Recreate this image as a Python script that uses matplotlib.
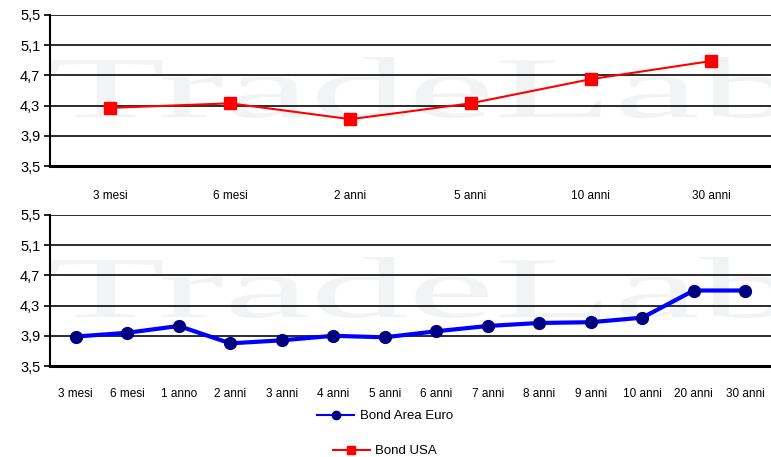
import matplotlib
matplotlib.use("Agg")
from matplotlib import pyplot as plt
from matplotlib.textpath import TextPath
from matplotlib.patches import PathPatch
from matplotlib.font_manager import FontProperties
from matplotlib.transforms import Affine2D
from matplotlib.lines import Line2D

usa_labels = ['3 mesi', '6 mesi', '2 anni', '5 anni', '10 anni', '30 anni']
usa_values = [4.27, 4.33, 4.12, 4.33, 4.65, 4.89]

euro_labels = ['3 mesi', '6 mesi', '1 anno', '2 anni', '3 anni', '4 anni', '5 anni',
               '6 anni', '7 anni', '8 anni', '9 anni', '10 anni', '20 anni', '30 anni']
euro_values = [3.89, 3.94, 4.03, 3.80, 3.84, 3.90, 3.88,
               3.96, 4.03, 4.07, 4.08, 4.14, 4.50, 4.50]

y_ticks = [3.5, 3.9, 4.3, 4.7, 5.1, 5.5]

plt.rcParams['font.family'] = ['Liberation Sans', 'DejaVu Sans']

W, H = 771, 457
fig = plt.figure(figsize=(W / 100, H / 100), dpi=100)


def px_box(x0, y0, x1, y1):
    # pixel box (top-left origin) -> figure fraction rect
    return [x0 / W, 1 - y1 / H, (x1 - x0) / W, (y1 - y0) / H]


def watermark(x0, y0, x1, y1):
    tp = TextPath((0, 0), 'TradeLab', prop=FontProperties(family='Liberation Serif'))
    bb = tp.get_extents()
    fx0, fy0 = x0 / W, 1 - y1 / H
    sx = (x1 - x0) / W / bb.width
    sy = (y1 - y0) / H / bb.height
    tr = Affine2D().translate(-bb.x0, -bb.y0).scale(sx, sy).translate(fx0, fy0)
    path = tr.transform_path(tp)
    fig.add_artist(PathPatch(path, facecolor='#f1f3f5', edgecolor='none',
                             transform=fig.transFigure, zorder=-5))


def style_axes(ax, labels, pad):
    ax.set_facecolor('none')
    ax.set_ylim(3.5, 5.5)
    ax.set_yticks(y_ticks)
    ax.set_yticklabels([('%.1f' % v).replace('.', ',') for v in y_ticks], fontsize=10.5)
    ax.set_xlim(-0.5, len(labels) - 0.5)
    ax.set_xticks(range(len(labels)))
    ax.set_xticklabels(labels, fontsize=8.5)
    ax.tick_params(axis='x', length=0, pad=pad)
    ax.tick_params(axis='y', length=4, width=1.2, direction='out', pad=3)
    ax.grid(axis='y', color='#1a1a1a', linewidth=1.3)
    ax.set_axisbelow(True)
    for s in ['top', 'right']:
        ax.spines[s].set_visible(False)
    ax.spines['left'].set_linewidth(1.5)
    ax.spines['bottom'].set_linewidth(2.2)


watermark(50, 57, 790, 118)
watermark(50, 257, 790, 318)

ax1 = fig.add_axes(px_box(50, 15, 771, 166))
ax1.plot(range(len(usa_labels)), usa_values, color='#ff0000', linewidth=1.5,
         marker='s', markersize=8, markerfacecolor='#ff0000', markeredgecolor='#ff0000',
         zorder=3)
style_axes(ax1, usa_labels, 17)

ax2 = fig.add_axes(px_box(50, 215, 771, 366))
ax2.plot(range(len(euro_labels)), euro_values, color='#0000ff', linewidth=3,
         marker='o', markersize=8.5, markerfacecolor='#000080', markeredgecolor='#000080',
         zorder=3)
style_axes(ax2, euro_labels, 16)

h_euro = Line2D([], [], color='#0000ff', linewidth=1.5, marker='o', markersize=6,
                markerfacecolor='#000080', markeredgecolor='#000080')
h_usa = Line2D([], [], color='#ff0000', linewidth=1.5, marker='s', markersize=6,
               markerfacecolor='#ff0000', markeredgecolor='#ff0000')

fig.legend([h_euro], ['Bond Area Euro'], loc='center', bbox_to_anchor=(385 / W, 1 - 416 / H),
           frameon=False, fontsize=9.5, handlelength=2.8, handletextpad=0.4)
fig.legend([h_usa], ['Bond USA'], loc='center', bbox_to_anchor=(385 / W, 1 - 451 / H),
           frameon=False, fontsize=9.5, handlelength=2.8, handletextpad=0.4)

fig.savefig('out.png', dpi=100)
